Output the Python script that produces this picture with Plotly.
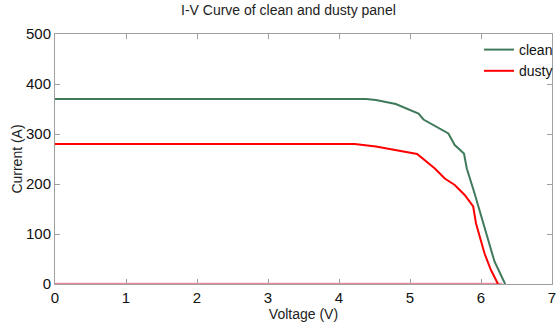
import plotly.graph_objects as go

clean_v = [0, 1, 2, 3, 4, 4.38, 4.52, 4.80, 5.12, 5.19, 5.54, 5.63, 5.76, 5.80, 5.91, 6.05, 6.12, 6.19, 6.34]
clean_i = [370, 370, 370, 370, 370, 370, 368, 360, 341, 329, 301, 278, 261, 231, 181, 115, 81, 45, 0]

dusty_v = [0, 1, 2, 3, 4, 4.22, 4.52, 5.10, 5.35, 5.49, 5.63, 5.77, 5.89, 5.93, 6.05, 6.14, 6.24]
dusty_i = [280, 280, 280, 280, 280, 280, 275, 260, 231, 211, 198, 178, 155, 121, 61, 28, 0]

base_v = [0, 6.3]
base_i = [0, 0]

title = "I-V Curve of clean and dusty panel"
x_label = "Voltage (V)"
y_label = "Current (A)"

FONT = "Liberation Sans, Arial"

fig = go.Figure()
fig.add_trace(go.Scatter(x=base_v, y=base_i, mode="lines", showlegend=False,
                         line=dict(color="rgba(220,60,90,0.6)", width=2.5), hoverinfo="skip"))
fig.add_trace(go.Scatter(x=clean_v, y=clean_i, mode="lines", name="clean",
                         line=dict(color="#3f7a5a", width=2)))
fig.add_trace(go.Scatter(x=dusty_v, y=dusty_i, mode="lines", name="dusty",
                         line=dict(color="#ff0000", width=2)))

axis_common = dict(showline=True, linecolor="#a0a0a0", linewidth=1, mirror="ticks",
                   ticks="inside", ticklen=5, tickcolor="#a0a0a0", showgrid=False,
                   zeroline=False, ticklabeloverflow="allow",
                   tickfont=dict(family=FONT, size=15, color="#111"))

fig.update_layout(
    width=560, height=322,
    margin=dict(l=55, r=2, t=34, b=38),
    paper_bgcolor="white", plot_bgcolor="white",
    title=dict(text=title, x=0.515, xanchor="center", y=0.985, yanchor="top",
               font=dict(family=FONT, size=14, color="#222")),
    xaxis=dict(range=[0, 7], dtick=1, title=dict(text=x_label, standoff=0,
               font=dict(family=FONT, size=14, color="#222")), **axis_common),
    yaxis=dict(range=[0, 500], dtick=100, title=dict(text=y_label, standoff=0,
               font=dict(family=FONT, size=14, color="#222")), **axis_common),
    legend=dict(x=1.012, xanchor="right", y=1, yanchor="top", bgcolor="rgba(0,0,0,0)",
                font=dict(family=FONT, size=14, color="#111"),
                tracegroupgap=0, itemwidth=30),
    showlegend=True,
)

fig.write_html("out.html")
